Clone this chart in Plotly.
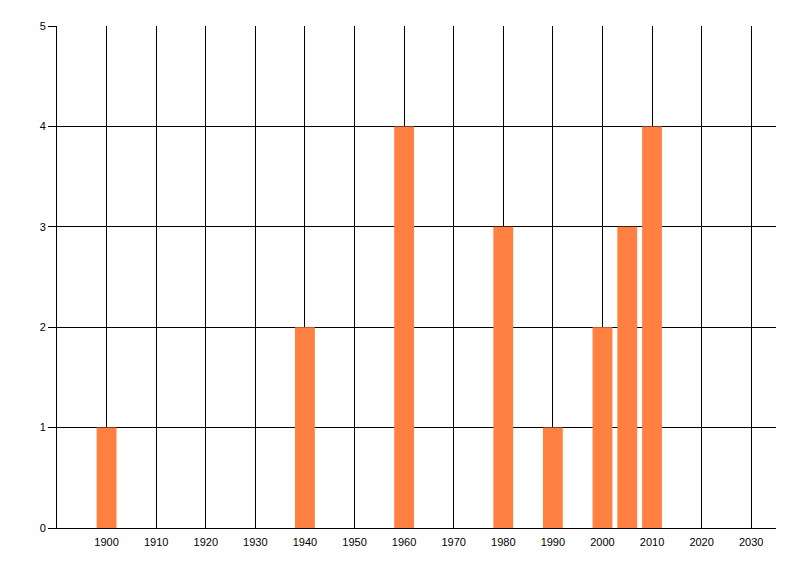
import plotly.graph_objects as go

# дані
years = [1900, 1940, 1960, 1980, 1990, 2000, 2005, 2010]
counts = [1, 2, 4, 3, 1, 2, 3, 4]
x_ticks = list(range(1900, 2031, 10))
y_ticks = [0, 1, 2, 3, 4, 5]

fig = go.Figure()
fig.add_trace(go.Bar(x=years, y=counts, width=4,
                     marker=dict(color='#FF8040', line=dict(width=0))))

# сторінка має відступ 8px, тому поля зсунуті
fig.update_layout(
    width=800, height=576,
    margin=dict(l=49, r=32, t=18, b=56),
    plot_bgcolor='white', paper_bgcolor='white',
    font=dict(family='Liberation Sans, Arial, sans-serif', size=11, color='black'),
    showlegend=False,
)
fig.update_xaxes(range=[1890, 2035], tickvals=x_ticks, showgrid=True,
                 gridcolor='black', gridwidth=1, showline=True, linecolor='black',
                 linewidth=1, ticks='', zeroline=False, ticklabelstandoff=4)
fig.update_yaxes(range=[0, 5], tickvals=y_ticks, showgrid=True,
                 gridcolor='black', gridwidth=1, showline=True, linecolor='black',
                 linewidth=1, ticks='outside', ticklen=8, tickcolor='black',
                 zeroline=False)

fig.write_html("out.html")
